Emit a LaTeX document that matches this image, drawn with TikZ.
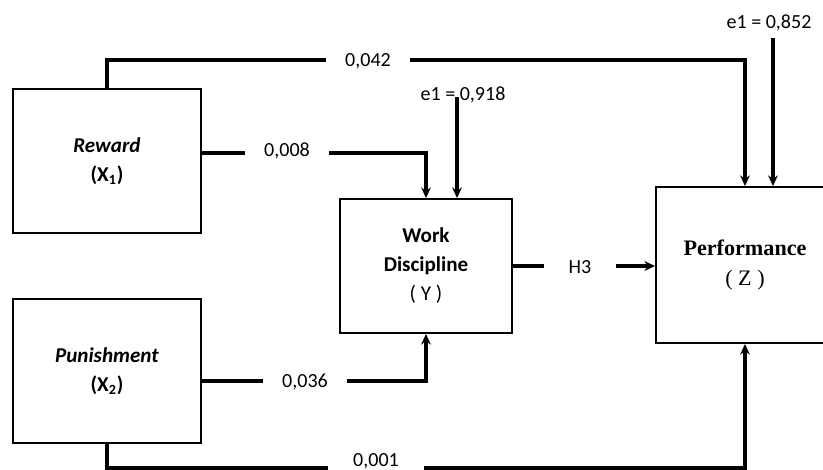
\documentclass[tikz,border=0pt]{standalone}
\usepackage{fontspec}
\setmainfont{Carlito}
\newfontfamily\timesfont{Liberation Serif}
\usetikzlibrary{arrows.meta}

\begin{document}
\begin{tikzpicture}[x=0.02cm, y=-0.02cm,
		box/.style={draw, line width=1.1pt, align=center, font=\fontsize{12}{16.5}\selectfont},
		val/.style={fill=white, minimum width=1.7cm, inner ysep=4pt, font=\fontsize{11.4}{14}\selectfont},
		link/.style={line width=1.8pt},
		arr/.style={link, -{Stealth[length=6pt, width=5.5pt]}}]
		\useasboundingbox (0,0) rectangle (823,470);
		\def\u{0.02cm}
		% variables
		\node[box, minimum width={188*\u}, minimum height={144*\u}] (rew) at (107,161)
			{\textbf{\textit{Reward}}\\\textbf{(X\textsubscript{1})}};
		\node[box, minimum width={188*\u}, minimum height={144*\u}] (pun) at (107,371)
			{\textbf{\textit{Punishment}}\\\textbf{(X\textsubscript{2})}};
		\node[box, minimum width={172*\u}, minimum height={134*\u}] (work) at (426,266)
			{\textbf{Work}\\\textbf{Discipline}\\( Y )};
		\node[box, minimum width={178*\u}, minimum height={156*\u}, font=\timesfont\fontsize{12.6}{17}\selectfont] (perf) at (745,265)
			{\textbf{Performance}\\( Z )};
		\node[font=\fontsize{11.4}{14}\selectfont, anchor=base, inner sep=0pt] (c001) at (376,466) {0,001};
		% paths
		\draw[arr] (rew.north) -- ++(0,-28) -| (perf.north);
		\draw[arr] ([yshift=8*\u]rew.east) -| (work.north);
		\draw[arr] ([yshift=-10*\u]pun.east) -| (work.south);
		\draw[link] (pun.south) |- ([xshift=-25*\u, yshift=-2*\u]c001.base west);
		\draw[arr] ([xshift=25*\u, yshift=-2*\u]c001.base east) -| (perf.south);
		\draw[arr] (work.east) -- (work.east -| perf.west);
		% coefficients
		\node[val] (c042) at (368,61) {0,042};
		\node[val] (c008) at (287,151) {0,008};
		\node[val] (c036) at (305,382) {0,036};
		\node[val, minimum width=1.45cm] (h3) at (580,267) {H3};
		% residuals
		\node[val, minimum width=1cm] (ework) at (463,95) {e1 = 0,918};
		\node[val, minimum width=1cm] (eperf) at (769,23) {e1 = 0,852};
		\coordinate (eworkin) at (457,97);
		\coordinate (eperfin) at (773,38);
		\draw[arr] (eworkin) -- (eworkin |- work.north);
		\draw[arr] (eperfin) -- (eperfin |- perf.north);
	\end{tikzpicture}
\end{document}
